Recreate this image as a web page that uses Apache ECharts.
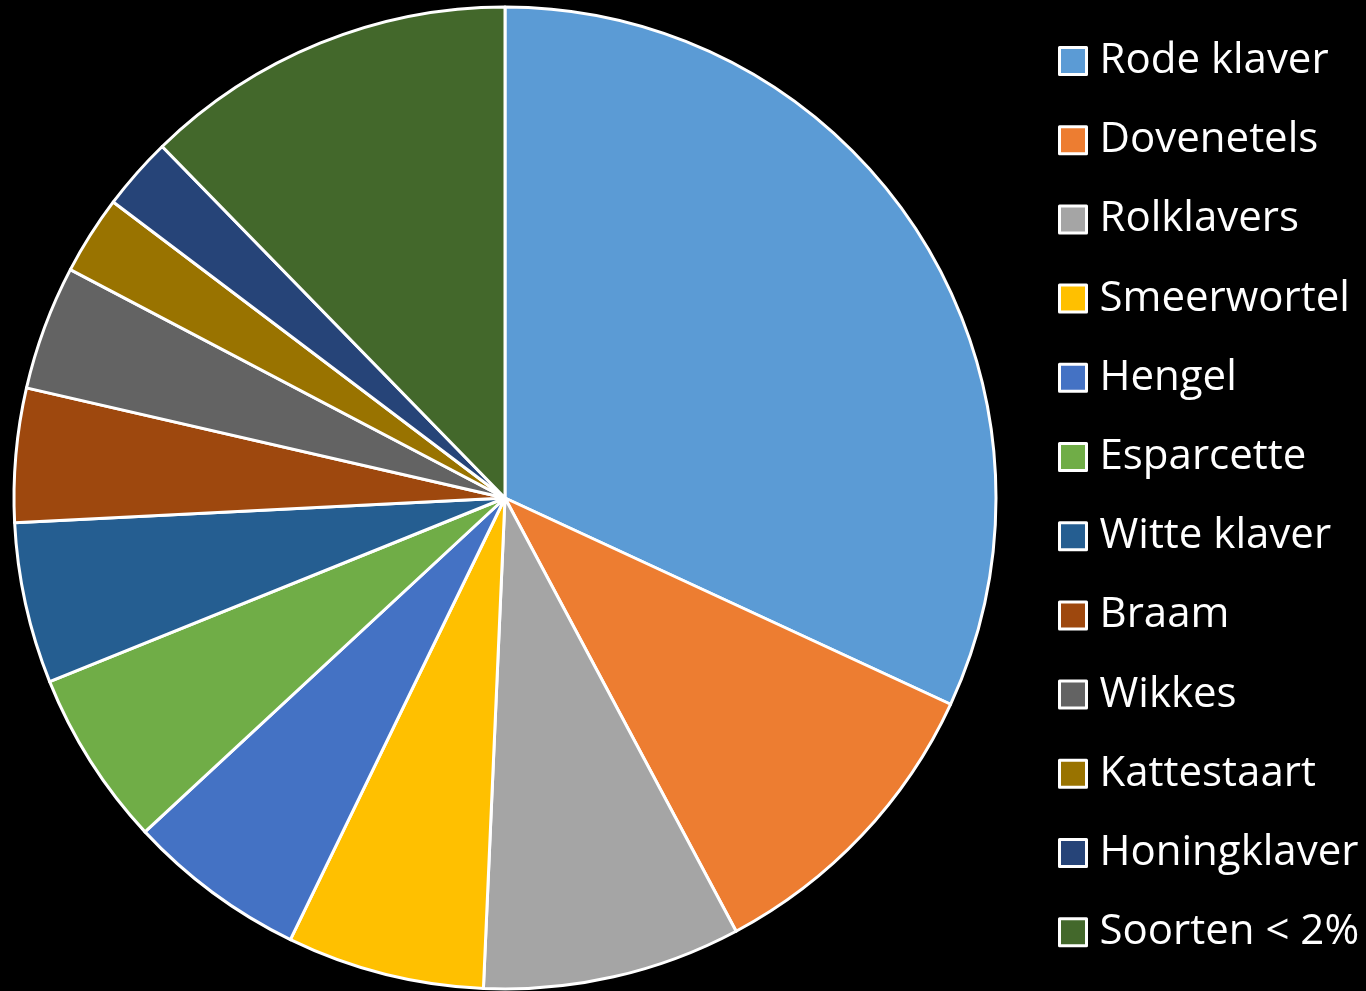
<!DOCTYPE html>
<html>
<head>
<meta charset="utf-8">
<script src="https://cdn.jsdelivr.net/npm/echarts@6/dist/echarts.min.js"></script>
<style>
html,body{margin:0;padding:0;background:#000;}
#chart{width:1366px;height:991px;}
</style>
</head>
<body>
<div id="chart"></div>
<script>
const categories = ['Rode klaver','Dovenetels','Rolklavers','Smeerwortel','Hengel','Esparcette','Witte klaver','Braam','Wikkes','Kattestaart','Honingklaver','Soorten < 2%'];
const values = [31.9, 10.3, 8.5, 6.5, 5.9, 5.8, 5.3, 4.4, 4.1, 2.6, 2.4, 12.3];
const colors = ['#5B9BD5','#ED7D31','#A5A5A5','#FFC000','#4472C4','#70AD47','#255E91','#9E480E','#636363','#997300','#264478','#43682B'];

const chart = echarts.init(document.getElementById('chart'));
chart.setOption({
  backgroundColor: '#000',
  animation: false,
  color: colors,
  legend: {
    orient: 'vertical',
    left: 1058,
    top: 40,
    padding: 0,
    itemWidth: 27,
    itemHeight: 27,
    itemGap: 37.2,
    icon: 'rect',
    itemStyle: { borderColor: '#fff', borderWidth: 3 },
    textStyle: { color: '#fff', fontSize: 42, fontFamily: 'Open Sans', lineHeight: 42, padding: [0,0,0,8] },
    data: categories
  },
  series: [{
    type: 'pie',
    center: [505, 498],
    radius: [0, 491],
    startAngle: 90,
    clockwise: true,
    label: { show: false },
    labelLine: { show: false },
    itemStyle: { borderColor: '#fff', borderWidth: 3 },
    data: categories.map((c, i) => ({ name: c, value: values[i] }))
  }]
});
</script>
</body>
</html>
